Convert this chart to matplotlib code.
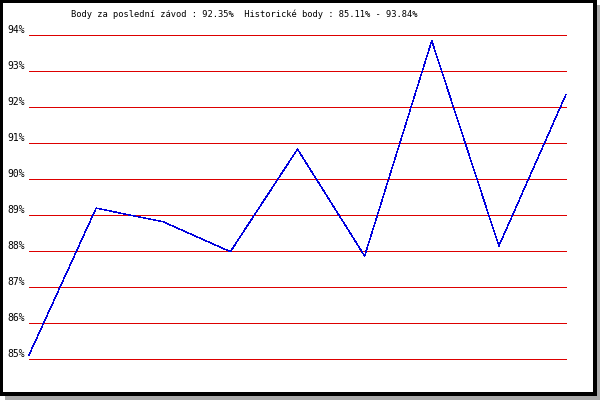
import matplotlib
matplotlib.use("Agg")
import matplotlib.pyplot as plt
import matplotlib.patches as patches
import matplotlib.transforms as mtransforms

# values
races = list(range(9))
points = [85.11, 89.19, 88.81, 87.98, 90.83, 87.86, 93.84, 88.14, 92.35]
y_ticks = [85, 86, 87, 88, 89, 90, 91, 92, 93, 94]
y_labels = [f"{v}%" for v in y_ticks]
title = "Body za poslední závod : 92.35%  Historické body : 85.11% - 93.84%"

W, H = 600, 400
fig = plt.figure(figsize=(6, 4), dpi=100)
fig.patch.set_facecolor("white")

# frame with drop shadow
fig.add_artist(patches.Rectangle((5 / W, 0), 595 / W, 5 / H, transform=fig.transFigure,
                                 facecolor="#aaaaaa", edgecolor="none", zorder=0))
fig.add_artist(patches.Rectangle((595 / W, 0), 5 / W, 395 / H, transform=fig.transFigure,
                                 facecolor="#aaaaaa", edgecolor="none", zorder=0))
fig.add_artist(patches.Rectangle((1 / W, 6 / H), 594 / W, 393 / H, transform=fig.transFigure,
                                 facecolor="white", edgecolor="black", linewidth=1.5,
                                 antialiased=False, zorder=0))

ax = fig.add_axes([29 / W, 1 - 359 / H, (566 - 29) / W, (359 - 35) / H])
ax.set_facecolor("none")
ax.set_xlim(0, 8)
ax.set_ylim(85, 94)

for v in y_ticks:
    ax.axhline(v, color="#dd0000", linewidth=0.5, antialiased=False, clip_on=False, zorder=1)

ax.plot(races, points, color="#0000dd", linewidth=0.3, antialiased=False, clip_on=False, zorder=2)

for s in ax.spines.values():
    s.set_visible(False)
ax.set_xticks([])
ax.set_yticks(y_ticks)
ax.set_yticklabels(y_labels, family="DejaVu Sans Mono", fontsize=7)
ax.tick_params(axis="y", length=0, pad=3)
shift = mtransforms.ScaledTranslation(0, 6 / 100, fig.dpi_scale_trans)
for lab in ax.get_yticklabels():
    lab.set_transform(lab.get_transform() + shift)

fig.text(244 / W, 1 - 14 / H, title, ha="center", va="center",
         family="DejaVu Sans Mono", fontsize=6.3)

fig.savefig("out.png", dpi=100)
